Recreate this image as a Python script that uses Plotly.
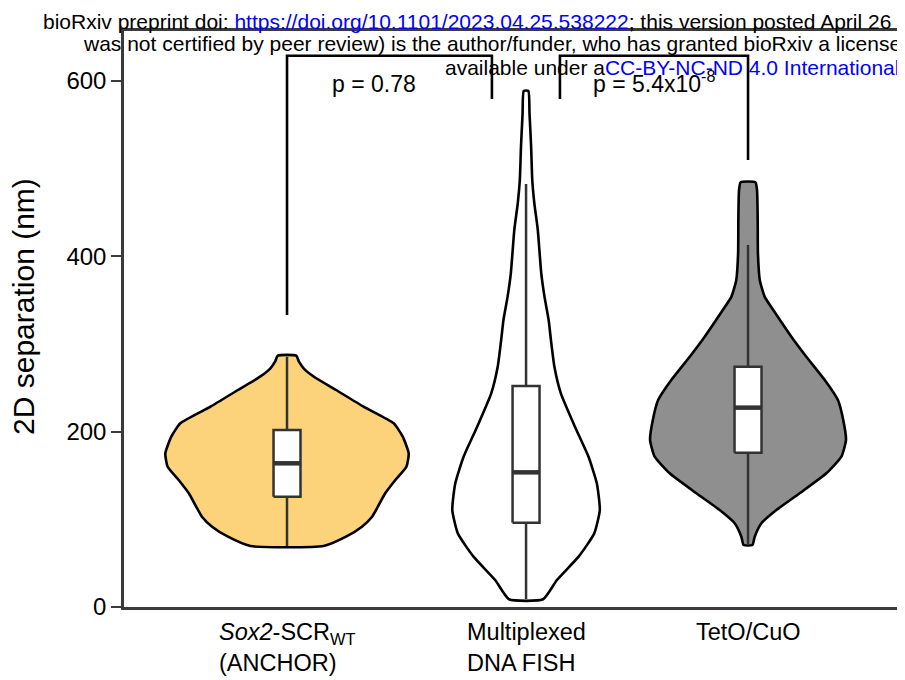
import plotly.graph_objects as go

# groups (left to right)
groups = ["Sox2-SCR WT (ANCHOR)", "Multiplexed DNA FISH", "TetO/CuO"]
group_labels = ["<i>Sox2</i>-SCR<sub>WT</sub><br>(ANCHOR)", "Multiplexed<br>DNA FISH", "TetO/CuO"]
fill_colors = ["#FCD37B", "#FFFFFF", "#8F8F8F"]

# violin outlines: separation (nm) and half width (x units)
anchor_y = [69.6, 80.2, 91.6, 103.0, 114.4, 129.7, 144.9, 160.0, 175.3, 194.3, 209.5, 228.5, 247.5, 262.7, 272.3, 279.8, 286.7]
anchor_hw = [0.159, 0.256, 0.325, 0.369, 0.394, 0.426, 0.470, 0.518, 0.528, 0.502, 0.463, 0.332, 0.213, 0.117, 0.072, 0.052, 0.040]

fish_y = [8.8, 30.8, 57.4, 84.0, 110.6, 141.1, 171.4, 205.7, 243.7, 274.0, 304.5, 327.4, 354.0, 380.6, 430.0, 460.5, 487.0, 525.0, 563.1, 588.6]
fish_hw = [0.074, 0.134, 0.228, 0.296, 0.320, 0.307, 0.271, 0.212, 0.151, 0.123, 0.108, 0.098, 0.080, 0.066, 0.051, 0.036, 0.027, 0.022, 0.015, 0.010]

teto_y = [70.7, 80.2, 95.5, 110.6, 129.7, 152.5, 171.4, 190.5, 213.3, 236.1, 258.9, 285.5, 308.3, 335.0, 354.0, 373.0, 403.4, 441.4, 475.6, 484.4]
teto_hw = [0.019, 0.029, 0.058, 0.123, 0.224, 0.340, 0.405, 0.425, 0.413, 0.390, 0.333, 0.253, 0.188, 0.119, 0.072, 0.051, 0.043, 0.042, 0.039, 0.032]

# box statistics
q1 = [125.8, 96.2, 176.0]
median = [163.9, 153.6, 227.4]
q3 = [201.9, 252.0, 274.0]
lower = [69.6, 8.8, 70.7]
upper = [285.5, 482.5, 413.0]

# significance brackets
p_labels = ["p = 0.78", "p = 5.4x10<sup>-8</sup>"]
bracket_top = [628.8, 628.8]
bracket_left_end = [333.0, 579.5]
bracket_right_end = [579.5, 510.0]

# layout positions
x_pos = [1.0, 2.037, 3.0]
bracket_x = [(1.0, 1.889), (2.184, 3.0)]
p_x = [1.377, 2.592]
p_y = 580
box_w = 0.117
box_col = '#333333'

outlines = [(anchor_y, anchor_hw), (fish_y, fish_hw), (teto_y, teto_hw)]

fig = go.Figure()

for i, (ys, hws) in enumerate(outlines):
    xc = x_pos[i]
    xs = [xc + h for h in hws] + [xc - h for h in reversed(hws)] + [xc + hws[0]]
    yy = list(ys) + list(reversed(ys)) + [ys[0]]
    fig.add_trace(go.Scatter(
        x=xs, y=yy, mode='lines', fill='toself',
        fillcolor=fill_colors[i],
        line=dict(color='black', width=2.6, shape='spline', smoothing=0.5),
        hoverinfo='skip', showlegend=False, name=groups[i]))

# boxplots drawn as scatter so they sit above the filled violins
for i in range(3):
    xc = x_pos[i]
    xl, xr = xc - box_w / 2, xc + box_w / 2
    fig.add_trace(go.Scatter(
        x=[xc, xc, None, xc, xc], y=[lower[i], q1[i], None, q3[i], upper[i]],
        mode='lines', line=dict(color=box_col, width=2.5),
        hoverinfo='skip', showlegend=False))
    fig.add_trace(go.Scatter(
        x=[xl, xr, xr, xl, xl], y=[q1[i], q1[i], q3[i], q3[i], q1[i]],
        mode='lines', fill='toself', fillcolor='white',
        line=dict(color=box_col, width=2.5),
        hoverinfo='skip', showlegend=False))
    fig.add_trace(go.Scatter(
        x=[xl, xr], y=[median[i], median[i]],
        mode='lines', line=dict(color=box_col, width=4.5),
        hoverinfo='skip', showlegend=False))

for j in range(2):
    xl, xr = bracket_x[j]
    fig.add_trace(go.Scatter(
        x=[xl, xl, xr, xr],
        y=[bracket_left_end[j], bracket_top[j], bracket_top[j], bracket_right_end[j]],
        mode='lines', line=dict(color='black', width=2.6),
        hoverinfo='skip', showlegend=False))
    fig.add_annotation(x=p_x[j], y=p_y, xref='x', yref='y', text=p_labels[j],
                       showarrow=False, xanchor='center', yanchor='bottom',
                       font=dict(size=23, color='black'))

for i in range(3):
    fig.add_annotation(x=x_pos[i], y=-0.0174, xref='x', yref='paper', text=group_labels[i],
                       showarrow=False, xanchor='center', yanchor='top', align='left',
                       font=dict(size=23.5, color='black'))

fig.add_annotation(x=-0.128, y=0.521, xref='paper', yref='paper', text='2D separation (nm)',
                   textangle=-90, showarrow=False, xanchor='center', yanchor='middle',
                   font=dict(size=30, color='black'))

# bioRxiv header
blue = "<span style='color:#0000FF'>%s</span>"
header = [
    ("bioRxiv preprint doi: " + blue % "https://doi.org/10.1101/2023.04.25.538222" + "; this version posted April 26", -0.106, 1.016),
    ("was not certified by peer review) is the author/funder, who has granted bioRxiv a license", -0.055, 0.978),
    ("available under a" + blue % "CC-BY-NC-ND 4.0 International", 0.408, 0.9375),
]
for txt, hx, hy in header:
    fig.add_annotation(x=hx, y=hy, xref='paper', yref='paper', text=txt, showarrow=False,
                       xanchor='left', yanchor='middle', font=dict(size=21, color='black'))

# the page adds an 8px body margin, so the figure is 8px smaller than the window
fig.update_layout(
    width=897, height=672,
    margin=dict(l=116, r=0, t=23, b=73),
    plot_bgcolor='white', paper_bgcolor='white',
    font=dict(family='Liberation Sans, Arial, sans-serif', color='black'),
    showlegend=False,
    xaxis=dict(range=[0.2928, 3.681], showgrid=False, zeroline=False,
               showticklabels=False, ticks='', showline=True, linecolor='#3a3a3a',
               linewidth=2.5, mirror=True),
    yaxis=dict(range=[0, 657], showgrid=False, zeroline=False,
               tickvals=[0, 200, 400, 600], ticks='outside', ticklen=10, tickwidth=2,
               tickcolor='#3a3a3a', tickfont=dict(size=24, color='black'),
               showline=True, linecolor='#3a3a3a', linewidth=2.5),
)

fig.write_html("out.html")
